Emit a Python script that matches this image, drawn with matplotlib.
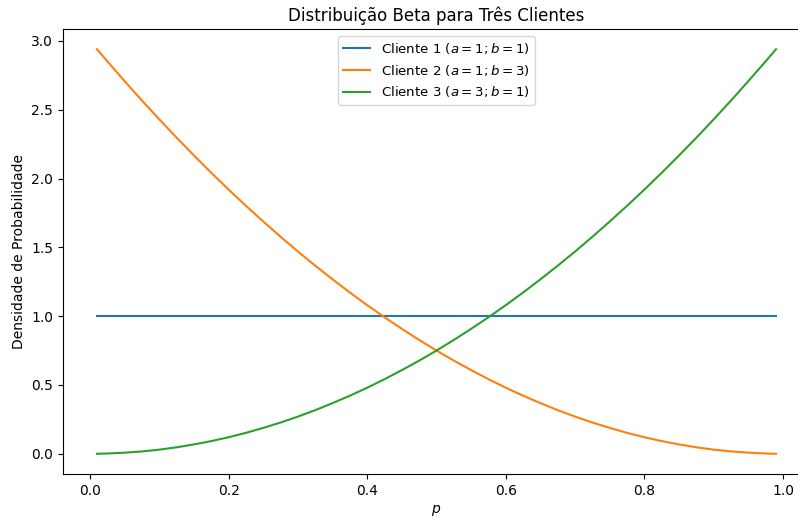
import matplotlib
matplotlib.use("Agg")
import matplotlib.pyplot as plt

p = [0.01, 0.025, 0.05, 0.075, 0.10, 0.125, 0.15, 0.175, 0.20, 0.225, 0.25,
     0.275, 0.30, 0.325, 0.35, 0.375, 0.40, 0.425, 0.45, 0.475, 0.50,
     0.525, 0.55, 0.575, 0.60, 0.625, 0.65, 0.675, 0.70, 0.725, 0.75,
     0.775, 0.80, 0.825, 0.85, 0.875, 0.90, 0.925, 0.95, 0.975, 0.99]
cliente1 = [1.00] * len(p)
cliente2 = [2.940, 2.852, 2.708, 2.567, 2.430, 2.297, 2.168, 2.042, 1.920, 1.802, 1.688,
            1.577, 1.470, 1.367, 1.268, 1.172, 1.080, 0.992, 0.908, 0.827, 0.750,
            0.677, 0.608, 0.542, 0.480, 0.422, 0.368, 0.317, 0.270, 0.227, 0.188,
            0.152, 0.120, 0.092, 0.068, 0.047, 0.030, 0.017, 0.008, 0.002, 0.000]
cliente3 = list(reversed(cliente2))
labels = [r"Cliente 1 ($a=1; b=1$)", r"Cliente 2 ($a=1; b=3$)", r"Cliente 3 ($a=3; b=1$)"]

fig = plt.figure(figsize=(7.98, 5.17), dpi=100)
ax = fig.add_axes([63/798, 43/517, (810-63)/798, (474-29)/517])
ax.plot(p, cliente1, label=labels[0])
ax.plot(p, cliente2, label=labels[1])
ax.plot(p, cliente3, label=labels[2])
ax.set_title("Distribuição Beta para Três Clientes")
ax.set_xlabel(r"$p$")
ax.set_ylabel("Densidade de Probabilidade")
ax.legend(loc="upper center", fontsize=9.6)
fig.savefig("out.png", dpi=100)
